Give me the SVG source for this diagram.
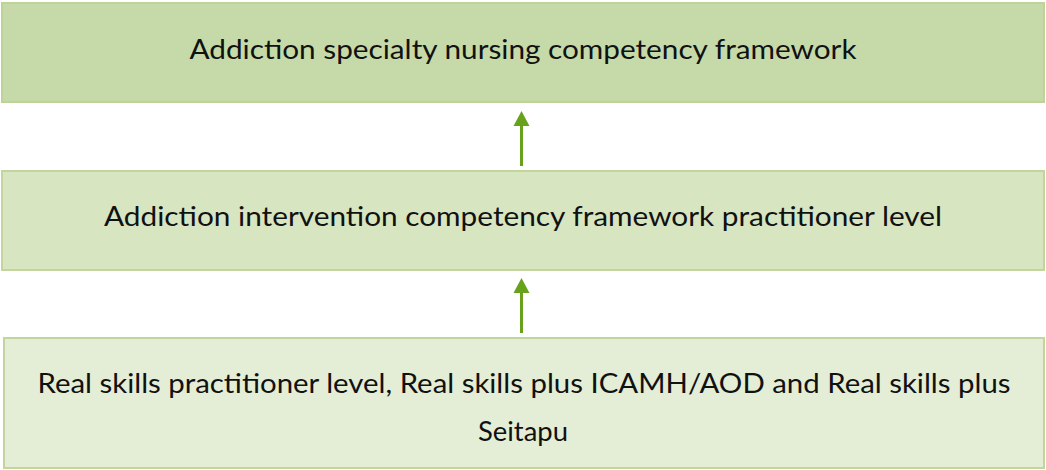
<svg xmlns="http://www.w3.org/2000/svg" width="1046" height="470" viewBox="0 0 1046 470">
  <defs>
    <style>
      .box { stroke-width: 2; }
      .lvl1 { fill: #c5daa8; stroke: #bdd398; }
      .lvl2 { fill: #d8e5c1; stroke: #c2d59d; }
      .lvl3 { fill: #e4edd6; stroke: #c2d59d; }
      .label { font-family: Lato, "Open Sans", "Liberation Sans", sans-serif; font-size: 26px; fill: #111111; text-anchor: middle; }
      .conn { stroke: #68a21d; stroke-width: 3; fill: none; }
      .head { fill: #68a21d; }
    </style>
  </defs>

  <!-- top tier -->
  <g id="node-specialty">
    <rect class="box lvl1" x="2" y="3" width="1042" height="99"/>
    <text class="label" x="523" y="59" textLength="667" lengthAdjust="spacingAndGlyphs">Addiction specialty nursing competency framework</text>
  </g>

  <!-- middle tier -->
  <g id="node-intervention">
    <rect class="box lvl2" x="2" y="171" width="1042" height="99"/>
    <text class="label" x="523" y="226" textLength="838" lengthAdjust="spacingAndGlyphs">Addiction intervention competency framework practitioner level</text>
  </g>

  <!-- base tier -->
  <g id="node-realskills">
    <rect class="box lvl3" x="4" y="338" width="1040" height="130"/>
    <text class="label" x="524" y="393" textLength="973" lengthAdjust="spacingAndGlyphs">Real skills practitioner level, Real skills plus ICAMH/AOD and Real skills plus</text>
    <text class="label" x="523" y="441" textLength="90" lengthAdjust="spacingAndGlyphs">Seitapu</text>
  </g>

  <!-- upward arrows between tiers -->
  <g id="connectors">
    <line class="conn" x1="521.5" y1="166" x2="521.5" y2="124"/>
    <polygon class="head" points="521.5,111 513.5,126 529.5,126"/>
    <line class="conn" x1="521.5" y1="333" x2="521.5" y2="291"/>
    <polygon class="head" points="521.5,278 513.5,293 529.5,293"/>
  </g>
</svg>
